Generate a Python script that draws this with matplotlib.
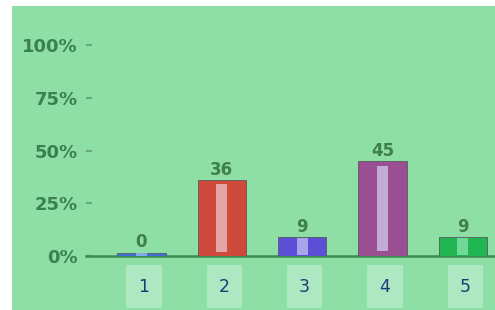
import matplotlib.pyplot as plt
from matplotlib.patches import Rectangle
from matplotlib.transforms import blended_transform_factory

categories = ["1", "2", "3", "4", "5"]
values = [0, 36, 9, 45, 9]
bar_colors = ["#3f72d6", "#cf4a3b", "#5b4fd6", "#9a4f92", "#22b653"]
stripe_colors = ["#8fb4ee", "#e6b7bd", "#b7b5ee", "#c7bde0", "#7fe0a5"]
y_ticks = [0, 25, 50, 75, 100]
y_labels = ["0%", "25%", "50%", "75%", "100%"]

W, H = 495, 310

fig = plt.figure(figsize=(W / 100, H / 100), dpi=100)
fig.patch.set_facecolor("white")
# green screen area (photo has a white margin left and top)
fig.patches.append(Rectangle((12 / W, 0), 1 - 12 / W, (H - 6) / H,
                             transform=fig.transFigure, facecolor="#8ddfa6",
                             edgecolor="none", zorder=-10))

ax = fig.add_axes([86 / W, 54 / H, (W - 86) / W, (256 - 45) / H])
ax.set_facecolor("none")
ax.set_zorder(5)

x = list(range(len(categories)))
heights = [max(v, 1.5) for v in values]

ax.bar(x, heights, width=0.6, color=bar_colors, edgecolor="#5a5a5a",
       linewidth=0.6, zorder=3)
ax.bar(x, [h * 0.9 for h in heights], width=0.14, color=stripe_colors,
       alpha=0.85, zorder=4, bottom=[h * 0.05 for h in heights])

for xi, h, v in zip(x, heights, values):
    ax.annotate(str(v), (xi, h), xytext=(0, 1), textcoords="offset points",
                ha="center", va="bottom", fontsize=12, fontweight="bold",
                color="#3f8048")

ax.set_xlim(-0.69, 4.4)
ax.set_ylim(0, 100)
ax.set_yticks(y_ticks)
ax.set_yticklabels(y_labels, fontsize=13, fontweight="bold", color="#3b8050")
ax.tick_params(axis="y", direction="in", length=4, width=1.5,
               color="#6aa878", pad=6)
ax.set_xticks([])

for s in ["top", "right", "left"]:
    ax.spines[s].set_visible(False)
ax.spines["bottom"].set_color("#3c8a50")
ax.spines["bottom"].set_linewidth(1.8)

trans = blended_transform_factory(ax.transData, ax.transAxes)
for xi, c in zip(x, categories):
    ax.text(xi + 0.03, -0.145, c, transform=trans, ha="center", va="center",
            fontsize=12.5, color="#1f3a78",
            bbox=dict(boxstyle="square,pad=0.7", facecolor="#ade8c2",
                      edgecolor="none"))

fig.savefig("out.png", dpi=100)
